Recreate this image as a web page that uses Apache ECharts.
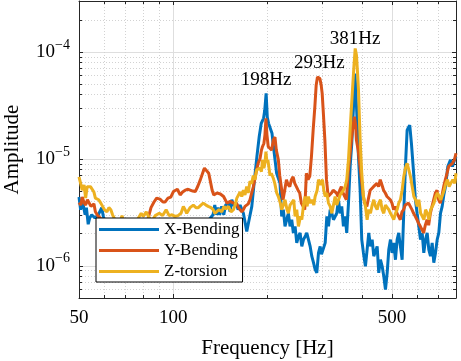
<!DOCTYPE html>
<html>
<head>
<meta charset="utf-8">
<script src="https://cdn.jsdelivr.net/npm/echarts@6/dist/echarts.min.js"></script>
<style>
  html, body { margin: 0; padding: 0; background: #fff; }
  #chart { width: 461px; height: 361px; }
</style>
</head>
<body>
<div id="chart"></div>
<script>
// X-Bending
var freqX = [50, 50.6, 51.4, 52.3, 52.8, 53.5, 54.1, 54.9, 56.2, 57.6, 59.1, 59.8, 61, 65, 70, 75, 80, 85, 90, 95,
  100, 105, 110, 115, 120, 125, 130, 134, 135.7, 137.4, 139, 140.7, 142.8, 145, 147, 150.2, 151.9, 153.8, 156.5, 158.8,
  161.1, 163.5, 167.5, 171.7, 174.7, 178.2, 181.7, 185, 188.2, 191, 194.3, 196, 198, 199.7, 201.6, 204.2, 206.7, 208.7, 211.4, 213.9,
  216.6, 219.3, 222, 224.7, 227.5, 230.3, 233.2, 236.1, 239, 241.9, 245, 248, 251.1, 254.2, 257.4, 260.6, 263.8, 267, 270.3, 273.7,
  277, 280.5, 283.9, 287.4, 291, 294.6, 297.5, 300.4, 305.7, 309.4, 313.2, 317.1, 321, 324.9, 328.9, 332.8, 337, 341.2, 345.3, 349.6,
  354, 358.2, 362.8, 367.3, 371.7, 376.4, 380.8, 385.6, 390.5, 395.3, 400, 405, 411, 416.1, 421.2, 426.5, 431.8, 437, 442.4, 448,
  453.3, 459, 464.8, 470.3, 476.2, 482.2, 488, 494.1, 500.2, 506.1, 512.5, 518.9, 525, 531.6, 538.3, 544.7, 551.5, 558.5, 563.8, 569.3,
  576.4, 583.7, 593.6, 601, 608.5, 616.1, 623.9, 631.3, 639.3, 647.2, 655, 663.1, 671.4, 679.5, 688, 696.6, 704.9, 713.7, 722.7, 731.3,
  740.5, 753.2, 768.3, 779.7, 791.3, 800];
var ampX = [4.4e-6, 3.35e-6, 3.9e-6, 3.0e-6, 3.5e-6, 2.45e-6, 2.8e-6, 3.0e-6, 2.8e-6, 3.0e-6, 3.5e-6, 2.9e-6, 2.4e-6, 2.2e-6, 2.5e-6, 2.1e-6, 2.4e-6, 2.2e-6, 2.5e-6, 2.3e-6,
  2.4e-6, 2.2e-6, 2.6e-6, 2.5e-6, 2.6e-6, 2.5e-6, 2.7e-6, 3.0e-6, 3.7e-6, 3.0e-6, 3.5e-6, 3.0e-6, 3.6e-6, 3.0e-6, 3.7e-6, 3.86e-6, 3.2e-6, 4.15e-6, 3.6e-6, 3.9e-6,
  3.35e-6, 3.7e-6, 3.1e-6, 2.1e-6, 2.7e-6, 3.6e-6, 6.4e-6, 1.05e-5, 1.62e-5, 2.15e-5, 2.4e-5, 2.85e-5, 4.1e-5, 2.45e-5, 2.15e-5, 2.2e-5, 1.74e-5, 1.35e-5, 1.3e-5, 7.35e-6,
  6.6e-6, 5.9e-6, 2.9e-6, 3.35e-6, 2.34e-6, 2.7e-6, 3.1e-6, 2.34e-6, 2.7e-6, 2.03e-6, 2.34e-6, 1.64e-6, 1.88e-6, 2.03e-6, 1.52e-6, 1.76e-6, 1.88e-6, 2.03e-6, 1.76e-6, 1.52e-6,
  1.23e-6, 1.07e-6, 9.25e-7, 8.6e-7, 1.32e-6, 1.52e-6, 1.28e-6, 1.32e-6, 1.64e-6, 2.9e-6, 2.34e-6, 3.35e-6, 3.1e-6, 2.7e-6, 2.7e-6, 3.1e-6, 4.15e-6, 3.1e-6, 3.6e-6, 2.34e-6,
  2.9e-6, 2.03e-6, 3.86e-6, 8.5e-6, 1.4e-5, 3.07e-5, 6.3e-5, 2.7e-5, 1.05e-5, 5.1e-6, 1.76e-6, 1.32e-6, 9.9e-7, 1.42e-6, 2.03e-6, 1.52e-6, 1.76e-6, 1.23e-6, 1.23e-6, 1.52e-6,
  8.6e-7, 1.14e-6, 9.9e-7, 8.0e-7, 6.0e-7, 8.6e-7, 1.42e-6, 1.76e-6, 1.32e-6, 1.64e-6, 1.14e-6, 1.76e-6, 2.03e-6, 1.52e-6, 1.14e-6, 3.1e-6, 8.5e-6, 1.86e-5, 1.97e-5, 2.07e-5,
  1.4e-5, 8.5e-6, 4.15e-6, 3.1e-6, 2.34e-6, 1.76e-6, 2.03e-6, 1.32e-6, 1.76e-6, 2.03e-6, 1.42e-6, 1.23e-6, 1.64e-6, 1.07e-6, 1.32e-6, 1.76e-6, 2.03e-6, 3.1e-6, 3.6e-6, 4.6e-6,
  5.5e-6, 8.5e-6, 9.8e-6, 8.5e-6, 9.8e-6, 1.05e-5];

// Y-Bending
var freqY = [50, 50.7, 51.2, 51.9, 52.5, 53.2, 53.8, 54.6, 55.1, 55.8, 56.4, 57.4, 60, 65, 70, 75, 80, 81.8, 83.2, 84.9,
  86.8, 88.5, 90.7, 92.7, 94.1, 96.2, 98.2, 100.1, 101.4, 103.1, 105.2, 107.1, 109.2, 111.6, 113.3, 115.4, 117.6, 119.8, 122.1, 124.4,
  125.8, 127.2, 129.8, 131.5, 133.1, 134.7, 136.3, 138, 139.7, 141.4, 143.1, 144.8, 146.6, 148.5, 150.2, 152, 153.9, 155.7, 157.6, 159.6,
  161.5, 163.5, 165.5, 167.5, 169.5, 171.6, 173.6, 175.8, 178, 180.1, 182.4, 184.6, 186.9, 189.2, 191.3, 192.7, 194.8, 196.3, 197.7, 199.2,
  201.1, 203.7, 206.3, 208.7, 211.3, 213.4, 216.6, 218.8, 222.1, 224.2, 227, 229.9, 232.7, 235.6, 238.5, 241.4, 244.4, 247.3, 250.4, 253.5,
  256.5, 259.8, 263, 266.2, 269.6, 273, 276.3, 279.8, 283.3, 286.1, 288.8, 291.4, 294, 296.8, 299, 301.9, 305, 308.6, 312.5, 316.4,
  320.2, 324.1, 328.2, 332, 336.2, 340.3, 344.3, 348.7, 353, 357.3, 361.8, 366.3, 370.7, 375.4, 379, 382.4, 384.6, 389.5, 394.4, 399.1,
  404.1, 408.6, 415.3, 420.3, 425.6, 430.9, 436.1, 441.6, 447.1, 452.6, 458.3, 464.1, 469.7, 475.6, 481.6, 487.3, 493.5, 499.6, 505.6, 512,
  518.3, 524.5, 531, 537.7, 544.1, 550.9, 557.8, 564.4, 571.5, 578.7, 585.6, 593, 600.4, 607.6, 615.3, 623, 630.4, 638.4, 646.5, 654.2,
  662.4, 670.7, 678.7, 687.2, 695.8, 704.2, 713, 722, 730.6, 739.8, 749.1, 758.1, 767.6, 779.1, 790.7, 800];
var ampY = [3.9e-6, 3.7e-6, 4.4e-6, 3.9e-6, 3.7e-6, 4.15e-6, 4.2e-6, 3.6e-6, 3.5e-6, 3.8e-6, 3.2e-6, 2.95e-6, 2.6e-6, 2.3e-6, 2.5e-6, 2.2e-6, 2.4e-6, 2.4e-6, 2.8e-6, 3.5e-6,
  3.95e-6, 4.3e-6, 4.2e-6, 3.95e-6, 3.95e-6, 4.3e-6, 4.4e-6, 4.95e-6, 5.1e-6, 5.2e-6, 4.6e-6, 4.9e-6, 5.1e-6, 5.2e-6, 5.1e-6, 5.0e-6, 4.95e-6, 5.55e-6, 6.4e-6, 7.5e-6,
  8.2e-6, 8.2e-6, 7.35e-6, 6.1e-6, 5.1e-6, 4.6e-6, 4.45e-6, 4.8e-6, 4.95e-6, 4.7e-6, 4.6e-6, 4.45e-6, 4.15e-6, 3.86e-6, 3.7e-6, 4.0e-6, 4.15e-6, 3.86e-6, 3.7e-6, 3.8e-6,
  3.5e-6, 3.4e-6, 3.2e-6, 3.35e-6, 3.6e-6, 3.65e-6, 3.8e-6, 4.15e-6, 4.8e-6, 5.45e-6, 6.6e-6, 7.9e-6, 9.2e-6, 1.0e-5, 1.21e-5, 1.3e-5, 1.4e-5, 1.68e-5, 2.39e-5, 1.68e-5,
  1.3e-5, 1.35e-5, 1.21e-5, 1.5e-5, 1.6e-5, 1.21e-5, 9.8e-6, 7.0e-6, 5.1e-6, 4.15e-6, 5.1e-6, 6.4e-6, 5.75e-6, 5.5e-6, 6.4e-6, 6.8e-6, 5.9e-6, 5.5e-6, 5.1e-6, 4.8e-6,
  3.86e-6, 3.6e-6, 3.35e-6, 7.35e-6, 6.4e-6, 6.9e-6, 1.05e-5, 1.86e-5, 3.07e-5, 4.9e-5, 5.85e-5, 5.95e-5, 5.65e-5, 4.9e-5, 4.1e-5, 2.55e-5, 1.5e-5, 6.4e-6, 4.45e-6, 4.6e-6,
  4.8e-6, 5.1e-6, 4.95e-6, 4.8e-6, 4.45e-6, 5.1e-6, 5.5e-6, 4.8e-6, 4.45e-6, 4.15e-6, 7.35e-6, 1.05e-5, 1.5e-5, 2.07e-5, 2.48e-5, 2.07e-5, 1.5e-5, 1.21e-5, 8.8e-6, 6.4e-6,
  4.6e-6, 3.86e-6, 3.6e-6, 3.7e-6, 5.1e-6, 4.95e-6, 5.5e-6, 5.4e-6, 5.9e-6, 5.5e-6, 6.4e-6, 5.7e-6, 5.1e-6, 4.8e-6, 4.45e-6, 4.6e-6, 4.15e-6, 3.86e-6, 3.35e-6, 3.6e-6,
  3.1e-6, 2.9e-6, 2.7e-6, 3.2e-6, 3.35e-6, 3.7e-6, 3.6e-6, 3.86e-6, 3.6e-6, 3.35e-6, 3.1e-6, 2.9e-6, 2.7e-6, 2.5e-6, 2.34e-6, 2.18e-6, 2.03e-6, 2.4e-6, 2.7e-6, 2.4e-6,
  3.1e-6, 3.6e-6, 4.15e-6, 4.8e-6, 5.1e-6, 4.15e-6, 3.86e-6, 4.6e-6, 5.5e-6, 6.4e-6, 7.35e-6, 8.5e-6, 8.5e-6, 9.1e-6, 9.8e-6, 1.13e-5];

// Z-torsion
var freqZ = [50, 50.6, 51.2, 51.9, 52.5, 53.1, 53.8, 54.4, 55.1, 55.8, 56.4, 57.1, 57.8, 58.7, 59.3, 60.3, 61.4, 62.3, 63.2, 64,
  64.7, 65.6, 67.2, 68.6, 69.6, 71.2, 73.3, 76, 79, 80.2, 82, 83.8, 85.7, 87.6, 90.2, 92.5, 94.9, 97, 99.1, 101.4,
  103.6, 105.9, 107.7, 109.1, 110.4, 113.1, 115.9, 118.2, 120.2, 122.6, 124.7, 127.2, 129.3, 132, 134.1, 135.8, 137.5, 140, 142.8, 145.3,
  147.4, 150, 153, 155.7, 157.6, 159.6, 161.5, 163.5, 165.5, 167.5, 169.5, 171.6, 173.6, 175.8, 178, 180.1, 182.4, 184.6, 186.9, 189.2,
  191.3, 192.7, 194.8, 196.3, 197.7, 199.2, 200.6, 203.7, 205.7, 208.7, 211, 214, 216.6, 219.8, 222, 224.7, 227.5, 230.9, 233.2, 236.1,
  239, 242.6, 245, 248, 251.1, 254.9, 257.4, 260.6, 263.8, 267.7, 270.3, 273.7, 277, 281.2, 283.9, 288.2, 291, 295.3, 299.7, 302.6,
  305.7, 309.4, 313.2, 317.1, 321, 324.9, 328.9, 332.8, 337, 341.2, 345.3, 349.6, 354, 358.2, 362.8, 368.2, 373.6, 377.8, 381.2, 384.8,
  387.7, 390.5, 395.3, 400, 405, 411, 416.1, 421.2, 426.5, 431.8, 437, 442.4, 448, 453.3, 459, 464.8, 470.3, 476.2, 482.2, 488,
  494.1, 500.2, 506.1, 512.5, 518.9, 525, 531.6, 538.3, 544.7, 551.5, 558.5, 565.4, 572.6, 579.8, 586.8, 594.2, 601.6, 608.9, 616.7, 624.5,
  631.9, 639.8, 647.9, 655.6, 663.9, 672.3, 680.3, 689.5, 697.7, 706.5, 715.3, 724.3, 733.1, 742.3, 751.6, 760.5, 770, 781.4, 793, 800];
var ampZ = [6.8e-6, 5.9e-6, 5.1e-6, 5.7e-6, 4.3e-6, 5.5e-6, 5.6e-6, 5.5e-6, 5.6e-6, 4.9e-6, 4.3e-6, 4.45e-6, 4.15e-6, 3.86e-6, 3.7e-6, 3.35e-6, 3.2e-6, 3.5e-6, 3.35e-6, 3.0e-6,
  2.95e-6, 2.6e-6, 2.45e-6, 2.95e-6, 2.55e-6, 2.45e-6, 2.2e-6, 2.55e-6, 3.1e-6, 2.9e-6, 3.2e-6, 2.8e-6, 2.65e-6, 2.95e-6, 3.1e-6, 2.95e-6, 3.35e-6, 2.95e-6, 3.0e-6, 2.9e-6,
  2.95e-6, 3.1e-6, 3.6e-6, 3.35e-6, 3.1e-6, 3.5e-6, 3.7e-6, 3.5e-6, 3.5e-6, 3.7e-6, 3.86e-6, 3.7e-6, 3.6e-6, 3.5e-6, 3.35e-6, 3.1e-6, 3.1e-6, 3.35e-6, 3.2e-6, 3.6e-6,
  3.4e-6, 3.6e-6, 3.2e-6, 3.35e-6, 3.7e-6, 4.3e-6, 4.15e-6, 4.9e-6, 4.45e-6, 5.1e-6, 4.6e-6, 5.5e-6, 4.8e-6, 6.2e-6, 5.85e-6, 7.0e-6, 6.4e-6, 7.9e-6, 7.6e-6, 8.2e-6,
  7.6e-6, 9.8e-6, 8.2e-6, 9.1e-6, 1.17e-5, 9.3e-6, 9.8e-6, 7.0e-6, 7.35e-6, 6.6e-6, 5.9e-6, 4.8e-6, 4.45e-6, 3.86e-6, 3.35e-6, 3.7e-6, 4.15e-6, 3.35e-6, 3.1e-6, 3.7e-6,
  3.6e-6, 4.15e-6, 2.9e-6, 3.35e-6, 2.34e-6, 2.9e-6, 2.7e-6, 3.7e-6, 4.45e-6, 3.6e-6, 4.45e-6, 3.86e-6, 4.15e-6, 3.7e-6, 4.45e-6, 5.1e-6, 6.4e-6, 5.7e-6, 6.4e-6, 5.1e-6,
  4.45e-6, 4.8e-6, 3.86e-6, 3.6e-6, 3.1e-6, 3.7e-6, 4.45e-6, 3.7e-6, 3.86e-6, 4.6e-6, 4.45e-6, 5.1e-6, 5.5e-6, 6.4e-6, 9.8e-6, 2.15e-5, 4.4e-5, 7.5e-5, 1.08e-4, 9.3e-5,
  6.5e-5, 4.4e-5, 1.5e-5, 7.35e-6, 4.45e-6, 3.6e-6, 2.7e-6, 3.35e-6, 3.1e-6, 3.7e-6, 4.15e-6, 3.6e-6, 3.35e-6, 3.86e-6, 4.15e-6, 3.35e-6, 3.1e-6, 3.7e-6, 3.6e-6, 3.35e-6,
  3.1e-6, 2.9e-6, 2.7e-6, 3.1e-6, 3.35e-6, 3.86e-6, 4.15e-6, 5.1e-6, 6.8e-6, 8.2e-6, 9.1e-6, 7.9e-6, 6.8e-6, 5.5e-6, 4.45e-6, 4.15e-6, 3.6e-6, 4.15e-6, 3.1e-6, 2.9e-6,
  2.7e-6, 3.35e-6, 3.1e-6, 2.7e-6, 3.35e-6, 3.6e-6, 3.86e-6, 4.45e-6, 4.8e-6, 4.45e-6, 4.15e-6, 4.6e-6, 5.1e-6, 5.9e-6, 6.4e-6, 5.5e-6, 5.9e-6, 6.4e-6, 5.9e-6, 7.35e-6];

// peak annotations
var peakFreq = [198, 293, 381];
var peakAmp = [4.1e-5, 5.95e-5, 1.08e-4];
var peakText = ['198Hz', '293Hz', '381Hz'];

// ticks
var xMajor = [50, 100, 500];
var xMinor = [60, 70, 80, 90, 200, 300, 400, 600, 700];
var yMajor = [1e-6, 1e-5, 1e-4];
var yMinor = [6e-7, 7e-7, 8e-7, 9e-7, 2e-6, 3e-6, 4e-6, 5e-6, 6e-6, 7e-6, 8e-6, 9e-6,
  2e-5, 3e-5, 4e-5, 5e-5, 6e-5, 7e-5, 8e-5, 9e-5, 2e-4, 3e-4];

var FONT = 'Liberation Serif';
var AXC = '#262626';
var colors = ['#0072BD', '#D95319', '#EDB120'];

function pairs(f, a) {
  return f.map(function (v, i) { return [v, a[i]]; });
}

function powLabel(v) {
  var e = Math.round(Math.log10(v));
  return '{b|10}{e|' + String(e).replace('-', '\u2212') + '}';
}

function xAx(pos, ticks, major) {
  return {
    type: 'log', min: 50, max: 800, position: pos,
    axisLine: { show: major, lineStyle: { color: AXC, width: 1 } },
    axisTick: { show: true, inside: true, length: major ? 4 : 3, customValues: ticks, lineStyle: { color: AXC } },
    axisLabel: { show: pos === 'bottom' && major, customValues: ticks, margin: 11, fontSize: 19, fontFamily: FONT, color: '#000' },
    splitLine: { show: pos === 'bottom', lineStyle: major ? { color: '#dedede', width: 1 } : { color: '#d2d2d2', width: 1, type: [1, 2] } }
  };
}

function yAx(pos, ticks, major) {
  return {
    type: 'log', min: 5e-7, max: 3e-4, position: pos,
    axisLine: { show: major, lineStyle: { color: AXC, width: 1 } },
    axisTick: { show: true, inside: true, length: major ? 4 : 3, customValues: ticks, lineStyle: { color: AXC } },
    axisLabel: {
      show: pos === 'left' && major, customValues: ticks, margin: 9, formatter: powLabel,
      rich: {
        b: { fontSize: 19, fontFamily: FONT, color: '#000' },
        e: { fontSize: 14, fontFamily: FONT, color: '#000', padding: [0, 0, 14, 0] }
      }
    },
    splitLine: { show: pos === 'left', lineStyle: major ? { color: '#dedede', width: 1 } : { color: '#d2d2d2', width: 1, type: [1, 2] } }
  };
}

var xAxes = [xAx('bottom', xMajor, true), xAx('bottom', xMinor, false), xAx('top', xMajor, true), xAx('top', xMinor, false)];
xAxes[0].name = 'Frequency [Hz]';
xAxes[0].nameLocation = 'middle';
xAxes[0].nameGap = 40;
xAxes[0].nameTextStyle = { fontSize: 21, fontFamily: FONT, color: '#000' };

var yAxes = [yAx('left', yMajor, true), yAx('left', yMinor, false), yAx('right', yMajor, true), yAx('right', yMinor, false)];
yAxes[0].name = 'Amplitude';
yAxes[0].nameLocation = 'middle';
yAxes[0].nameGap = 56;
yAxes[0].nameTextStyle = { fontSize: 21, fontFamily: FONT, color: '#000' };

var lift = [-13, -13, -9];

var chart = echarts.init(document.getElementById('chart'));
chart.setOption({
  animation: false,
  color: colors,
  grid: { left: 79, right: 5, top: 1, bottom: 63, outerBoundsMode: 'none' },
  xAxis: xAxes,
  yAxis: yAxes,
  legend: {
    orient: 'vertical', left: 96, top: 218,
    icon: 'rect', itemWidth: 60, itemHeight: 3, itemGap: 0,
    padding: [1, 3, 0, 3],
    backgroundColor: '#fff', borderColor: '#000', borderWidth: 1, borderRadius: 0,
    textStyle: { fontFamily: FONT, fontSize: 17, color: '#000', lineHeight: 21 },
    data: ['X-Bending', 'Y-Bending', 'Z-torsion']
  },
  series: [
    { name: 'X-Bending', type: 'line', data: pairs(freqX, ampX), symbol: 'none', lineStyle: { width: 3, color: colors[0] } },
    { name: 'Y-Bending', type: 'line', data: pairs(freqY, ampY), symbol: 'none', lineStyle: { width: 3, color: colors[1] } },
    {
      name: 'Z-torsion', type: 'line', data: pairs(freqZ, ampZ), symbol: 'none', lineStyle: { width: 3, color: colors[2] },
      markPoint: {
        symbol: 'circle', symbolSize: 1, silent: true,
        itemStyle: { color: 'rgba(0,0,0,0)' },
        label: { show: true, position: 'inside', formatter: '{b}', fontSize: 19, fontFamily: FONT, color: '#000' },
        data: peakFreq.map(function (f, i) {
          return { name: peakText[i], coord: [f, peakAmp[i]], label: { offset: [0, lift[i]] } };
        })
      }
    }
  ]
});
</script>
</body>
</html>
